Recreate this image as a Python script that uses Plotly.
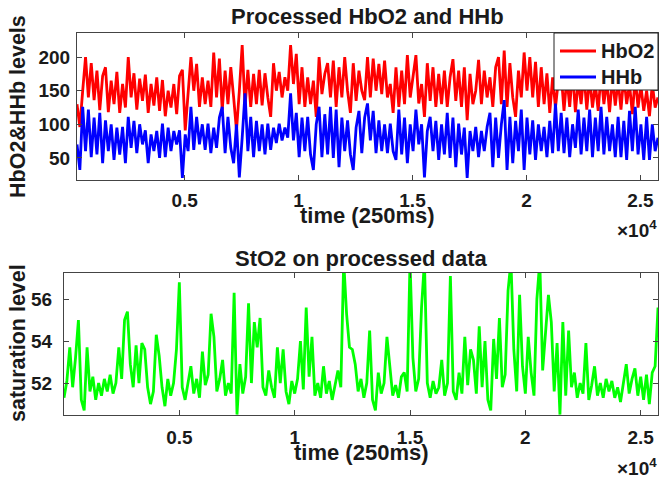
import plotly.graph_objects as go

# ---------------- data ----------------
top_time = list(range(275, 25776, 125))       # time samples (250 ms units)
bottom_time = list(range(0, 25751, 125))

hbo2 = [
    130, 96, 150, 200, 140, 191, 136, 180, 121, 172,
    185, 118, 165, 130, 178, 117, 160, 125, 200, 140,
    176, 122, 168, 135, 174, 117, 160, 128, 170, 120,
    166, 112, 150, 125, 160, 115, 172, 181, 91, 140,
    200, 150, 190, 126, 170, 130, 165, 126, 207, 140,
    198, 121, 180, 130, 185, 140, 91, 150, 218, 126,
    181, 126, 175, 130, 181, 128, 176, 140, 111, 191,
    150, 178, 140, 170, 150, 218, 160, 205, 130, 185,
    126, 170, 130, 165, 111, 200, 145, 175, 191, 140,
    195, 126, 185, 140, 200, 150, 117, 191, 135, 180,
    150, 136, 200, 140, 198, 150, 190, 145, 195, 140,
    160, 117, 185, 126, 180, 130, 203, 140, 175, 203,
    131, 160, 111, 191, 135, 185, 126, 175, 130, 180,
    126, 170, 197, 135, 180, 126, 185, 106, 175, 130,
    150, 196, 130, 180, 140, 170, 126, 185, 200, 130,
    210, 126, 191, 140, 111, 180, 140, 207, 150, 200,
    140, 193, 126, 185, 130, 176, 117, 170, 125, 165,
    175, 120, 170, 126, 180, 118, 165, 130, 175, 122,
    170, 125, 160, 120, 175, 130, 165, 118, 170, 128,
    165, 122, 172, 130, 160, 115, 170, 125, 158, 120,
    150, 112, 160, 125, 140,
]

hhb = [
    70, 32, 126, 60, 122, 51, 110, 55, 117, 42,
    106, 60, 100, 47, 95, 55, 96, 42, 111, 65,
    105, 57, 100, 70, 91, 42, 85, 60, 90, 50,
    101, 51, 95, 60, 90, 70, 91, 20, 85, 60,
    126, 62, 111, 70, 100, 62, 101, 57, 95, 65,
    110, 126, 57, 111, 65, 42, 100, 21, 80, 146,
    60, 111, 51, 105, 60, 100, 55, 101, 62, 95,
    72, 101, 76, 95, 80, 146, 76, 117, 51, 110,
    60, 111, 55, 32, 100, 126, 51, 115, 55, 126,
    50, 122, 36, 110, 60, 106, 55, 32, 95, 120,
    57, 110, 131, 76, 120, 57, 106, 60, 100, 57,
    101, 60, 47, 122, 55, 110, 42, 100, 60, 122,
    70, 100, 21, 90, 111, 60, 105, 47, 100, 55,
    117, 50, 110, 36, 101, 55, 95, 20, 90, 60,
    96, 51, 90, 60, 96, 117, 36, 110, 50, 100,
    136, 32, 111, 42, 105, 60, 122, 32, 110, 55,
    106, 47, 100, 60, 96, 51, 105, 57, 131, 60,
    117, 57, 110, 51, 100, 65, 122, 55, 110, 60,
    122, 51, 110, 60, 126, 55, 111, 60, 100, 51,
    111, 51, 105, 47, 120, 60, 126, 55, 100, 47,
    111, 47, 100, 60, 80,
]

sto2 = [
    51.3, 52.1, 53.7, 51.8, 53.2, 55.0, 51.2, 50.7, 53.7, 51.6,
    52.3, 51.2, 52.0, 51.4, 52.2, 51.6, 52.4, 51.5, 52.0, 53.7,
    52.2, 55.0, 55.4, 52.9, 51.8, 53.8, 52.0, 53.9, 53.6, 51.8,
    51.0, 51.6, 54.3, 53.3, 51.8, 50.9, 52.2, 51.4, 52.0, 53.6,
    56.8, 51.8, 51.2, 52.0, 52.8, 51.5, 52.2, 51.3, 53.5, 51.9,
    52.4, 55.3, 54.2, 51.6, 52.2, 53.1, 51.4, 52.0, 51.5, 56.3,
    50.5, 52.9, 51.5, 52.3, 55.8, 52.0, 54.9, 53.7, 55.1, 51.8,
    51.4, 52.6, 51.8, 51.3, 53.7, 52.0, 53.6, 51.6, 51.0, 52.1,
    51.5, 52.2, 54.0, 51.7, 55.6, 52.3, 54.2, 51.4, 52.0, 51.3,
    52.8, 51.5, 52.1, 51.2, 51.9, 52.6, 51.8, 57.8, 55.3, 53.7,
    53.6, 52.9, 51.6, 52.2, 51.3, 52.0, 54.5, 51.2, 50.7, 52.5,
    51.5, 52.0, 54.2, 52.8, 51.4, 51.9, 51.3, 52.3, 52.5, 51.6,
    57.8, 53.2, 51.6, 52.2, 55.6, 57.8, 52.0, 51.3, 52.1, 51.5,
    51.8, 53.1, 51.4, 52.0, 57.1, 51.6, 51.2, 52.5, 51.5, 54.2,
    51.9, 53.6, 53.1, 51.5, 54.7, 51.8, 54.0, 51.2, 50.7, 54.1,
    52.2, 55.1, 51.8, 52.4, 56.4, 57.8, 53.6, 51.6, 56.2, 52.8,
    51.5, 54.2, 52.5, 51.4, 56.0, 57.8, 52.6, 54.4, 56.2, 54.9,
    51.6, 53.9, 50.5, 54.9, 51.4, 54.5, 51.8, 52.5, 51.3, 52.0,
    51.5, 53.9, 51.2, 51.9, 52.8, 51.4, 52.0, 51.3, 52.2, 51.6,
    52.1, 51.3, 51.8, 51.1, 52.0, 52.9, 51.5, 52.2, 52.7, 51.4,
    52.3, 51.2, 52.4, 51.0, 52.5, 52.8, 55.6,
]

x_tick_vals = [5000, 10000, 15000, 20000, 25000]
x_tick_text = ["0.5", "1", "1.5", "2", "2.5"]
top_y_ticks = [50, 100, 150, 200]
bottom_y_ticks = [52, 54, 56]
legend_names = ["HbO2", "HHb"]
legend_colors = ["#ff0000", "#0000ff"]

# ---------------- figure ----------------
FONT = "Liberation Sans"
TXT = "#1a1a1a"
LW = 2.8
fig = go.Figure()

fig.add_trace(go.Scatter(x=top_time, y=hbo2, mode="lines", name=legend_names[0],
                         line=dict(color=legend_colors[0], width=LW),
                         xaxis="x", yaxis="y"))
fig.add_trace(go.Scatter(x=top_time, y=hhb, mode="lines", name=legend_names[1],
                         line=dict(color=legend_colors[1], width=LW),
                         xaxis="x", yaxis="y"))
fig.add_trace(go.Scatter(x=bottom_time, y=sto2, mode="lines", name="StO2",
                         line=dict(color="#00ff00", width=LW),
                         xaxis="x2", yaxis="y2"))

def axis_style(standoff):
    return dict(showgrid=False, zeroline=False, ticks="inside", ticklen=5,
                tickwidth=1, tickcolor="#444", linecolor="#444", linewidth=1,
                mirror="ticks", showline=True, ticklabelstandoff=standoff,
                tickfont=dict(family=FONT, size=19, color=TXT, weight="bold"))

fig.update_layout(
    width=660, height=480,
    margin=dict(l=0, r=0, t=0, b=0),
    paper_bgcolor="white", plot_bgcolor="white",
    font=dict(family=FONT, size=19, color=TXT, weight="bold"),
    xaxis=dict(domain=[77/660, 658/660], range=[275, 25775], anchor="y",
               tickvals=x_tick_vals, ticktext=x_tick_text, **axis_style(3)),
    yaxis=dict(domain=[1-180/480, 1-33/480], range=[17, 236], anchor="x",
               tickvals=top_y_ticks, **axis_style(2)),
    xaxis2=dict(domain=[64/660, 658/660], range=[0, 25750], anchor="y2",
                tickvals=x_tick_vals, ticktext=x_tick_text, **axis_style(5)),
    yaxis2=dict(domain=[1-415/480, 1-273/480], range=[50.48, 57.24], anchor="x2",
                tickvals=bottom_y_ticks, **axis_style(7)),
    showlegend=False,
)

# legend box drawn in paper coordinates (MATLAB-style compact legend)
fig.add_shape(type="rect", xref="paper", yref="paper",
              x0=554/660, x1=658/660, y0=1-90/480, y1=1-33/480,
              line=dict(color="#222", width=1), fillcolor="white", layer="above")
for i, (nm, col) in enumerate(zip(legend_names, legend_colors)):
    yc = 1 - (51 + 26 * i) / 480
    fig.add_shape(type="line", xref="paper", yref="paper",
                  x0=560/660, x1=596/660, y0=yc, y1=yc,
                  line=dict(color=col, width=LW), layer="above")
    fig.add_annotation(text=nm, x=599/660, y=yc, xref="paper", yref="paper",
                       xanchor="left", yanchor="middle", showarrow=False,
                       font=dict(family=FONT, size=20, color=TXT, weight="bold"))

ann = dict(showarrow=False, xref="paper", yref="paper")
big = dict(family=FONT, size=22, color=TXT, weight="bold")
ylab = dict(family=FONT, size=21.5, color=TXT, weight="bold")
mid = dict(family=FONT, size=19, color=TXT, weight="bold")
fig.add_annotation(text="Processed HbO2 and HHb", x=367/660, y=1-17/480,
                   xanchor="center", yanchor="middle", font=big, **ann)
fig.add_annotation(text="StO2 on processed data", x=361/660, y=1-258/480,
                   xanchor="center", yanchor="middle", font=big, **ann)
fig.add_annotation(text="time (250ms)", x=367/660, y=1-216/480,
                   xanchor="center", yanchor="middle", font=big, **ann)
fig.add_annotation(text="time (250ms)", x=361/660, y=1-452/480,
                   xanchor="center", yanchor="middle", font=big, **ann)
fig.add_annotation(text="×10<sup>4</sup>", x=659/660, y=1-229/480,
                   xanchor="right", yanchor="middle", font=mid, **ann)
fig.add_annotation(text="×10<sup>4</sup>", x=659/660, y=1-467/480,
                   xanchor="right", yanchor="middle", font=mid, **ann)
fig.add_annotation(text="HbO2&HHb levels", x=18/660, y=1-107/480, textangle=-90,
                   xanchor="center", yanchor="middle", font=ylab, **ann)
fig.add_annotation(text="saturation level", x=18/660, y=1-343/480, textangle=-90,
                   xanchor="center", yanchor="middle", font=ylab, **ann)

fig.write_html("out.html", config={"displayModeBar": False},
               post_script="document.body.style.margin='0';document.body.style.overflow='hidden';")
